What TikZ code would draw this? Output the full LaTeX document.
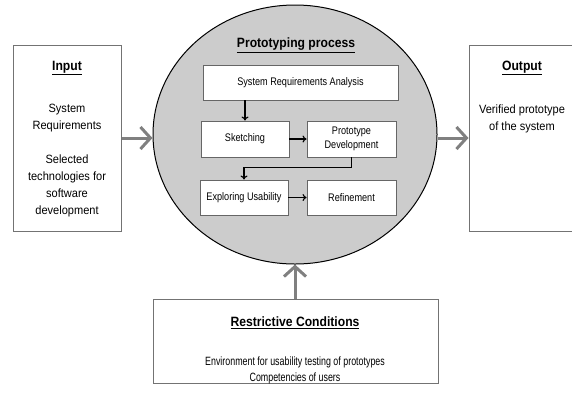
\documentclass[tikz,border=0pt]{standalone}
\usepackage{fontspec}
\setmainfont{Liberation Sans}
\newfontfamily\titlefont[FakeStretch=0.9]{Liberation Sans}
\newfontfamily\sidefont[FakeStretch=0.92]{Liberation Sans}
\newfontfamily\stepfont[FakeStretch=0.83]{Liberation Sans}
\newfontfamily\condfont[FakeStretch=0.74]{Liberation Sans}
\usetikzlibrary{shapes.geometric,arrows.meta}

\begin{document}
\begin{tikzpicture}[x=1pt,y=-1pt]
        \tikzstyle{outerbox}=[draw=black!55, line width=1pt, rectangle, inner sep=0pt]
        \tikzstyle{stepbox}=[draw=black!60, fill=white, line width=0.9pt, rectangle, inner sep=0pt,
            minimum height=35pt, align=center, font=\stepfont\fontsize{11}{14}\selectfont]
        \tikzstyle{heading}=[inner sep=0pt, font=\titlefont\fontsize{13.5}{15}\selectfont\bfseries]
        \tikzstyle{plain}=[inner sep=0pt, align=center]
        \tikzstyle{bigarrow}=[draw=black!50, line width=3pt, -{Straight Barb[length=10pt,width=22pt]}]
        \tikzstyle{smallarrow}=[draw=black, line width=1.1pt, -{To[length=4pt,width=7pt]}]

        \useasboundingbox (0,0) rectangle (572,392);

        % outer boxes
        \node[outerbox, minimum width=108pt, minimum height=186pt](inbox)at(67,138){};
        \node[outerbox, minimum width=106pt, minimum height=186pt](outbox)at(522,138){};
        \node[outerbox, minimum width=285pt, minimum height=84pt](rcbox)at(295.5,341){};

        \node[heading](intitle)at(67,68){\underline{Input}};
        \node[plain, font=\sidefont\fontsize{12}{17}\selectfont](intext)at(67,160.5)
            {System\\Requirements\\[17.5pt]Selected\\technologies for\\software\\development};

        \node[heading](outtitle)at(522,68){\underline{Output}};
        \node[plain, font=\sidefont\fontsize{12}{17}\selectfont](outtext)at(522,118.5)
            {Verified prototype\\of the system};

        \node[heading](rctitle)at(295,323){\underline{Restrictive Conditions}};
        \node[plain, font=\condfont\fontsize{12}{16}\selectfont](rctext)at(295,370)
            {Environment for usability testing of prototypes\\Competencies of users};

        % process ellipse
        \node[ellipse, draw=black, fill=black!20, line width=1pt, inner sep=0pt,
            minimum width=284pt, minimum height=259pt](ell)at(295,134.5){};
        \node[heading](ptitle)at(296,45){\underline{Prototyping process}};

        \node[stepbox, minimum width=195pt](sra)at(300.5,82.5){System Requirements Analysis};
        \node[stepbox, minimum width=88pt, minimum height=36pt](sk)at(245,139){Sketching};
        \node[stepbox, minimum width=89pt, minimum height=36pt](pd)at(351.5,139){Prototype\\Development};
        \node[stepbox, minimum width=88pt](eu)at(244,197.5){Exploring Usability};
        \node[stepbox, minimum width=89pt](rf)at(351.5,197.5){Refinement};

        \draw[smallarrow] (sk |- sra.south) -- (sk.north);
        \draw[smallarrow] (sk) -- (pd);
        \draw[smallarrow] (pd.south) -- ++(0,10) -| (eu.north);
        \draw[smallarrow] (eu) -- (rf);

        % input, output and conditions
        \draw[bigarrow] (inbox.east) -- (inbox.east -| ell.west);
        \draw[bigarrow] (ell.east |- outbox.west) -- (outbox.west);
        \draw[bigarrow] (rcbox.north -| ell.south) -- (ell.south);
    \end{tikzpicture}
\end{document}
